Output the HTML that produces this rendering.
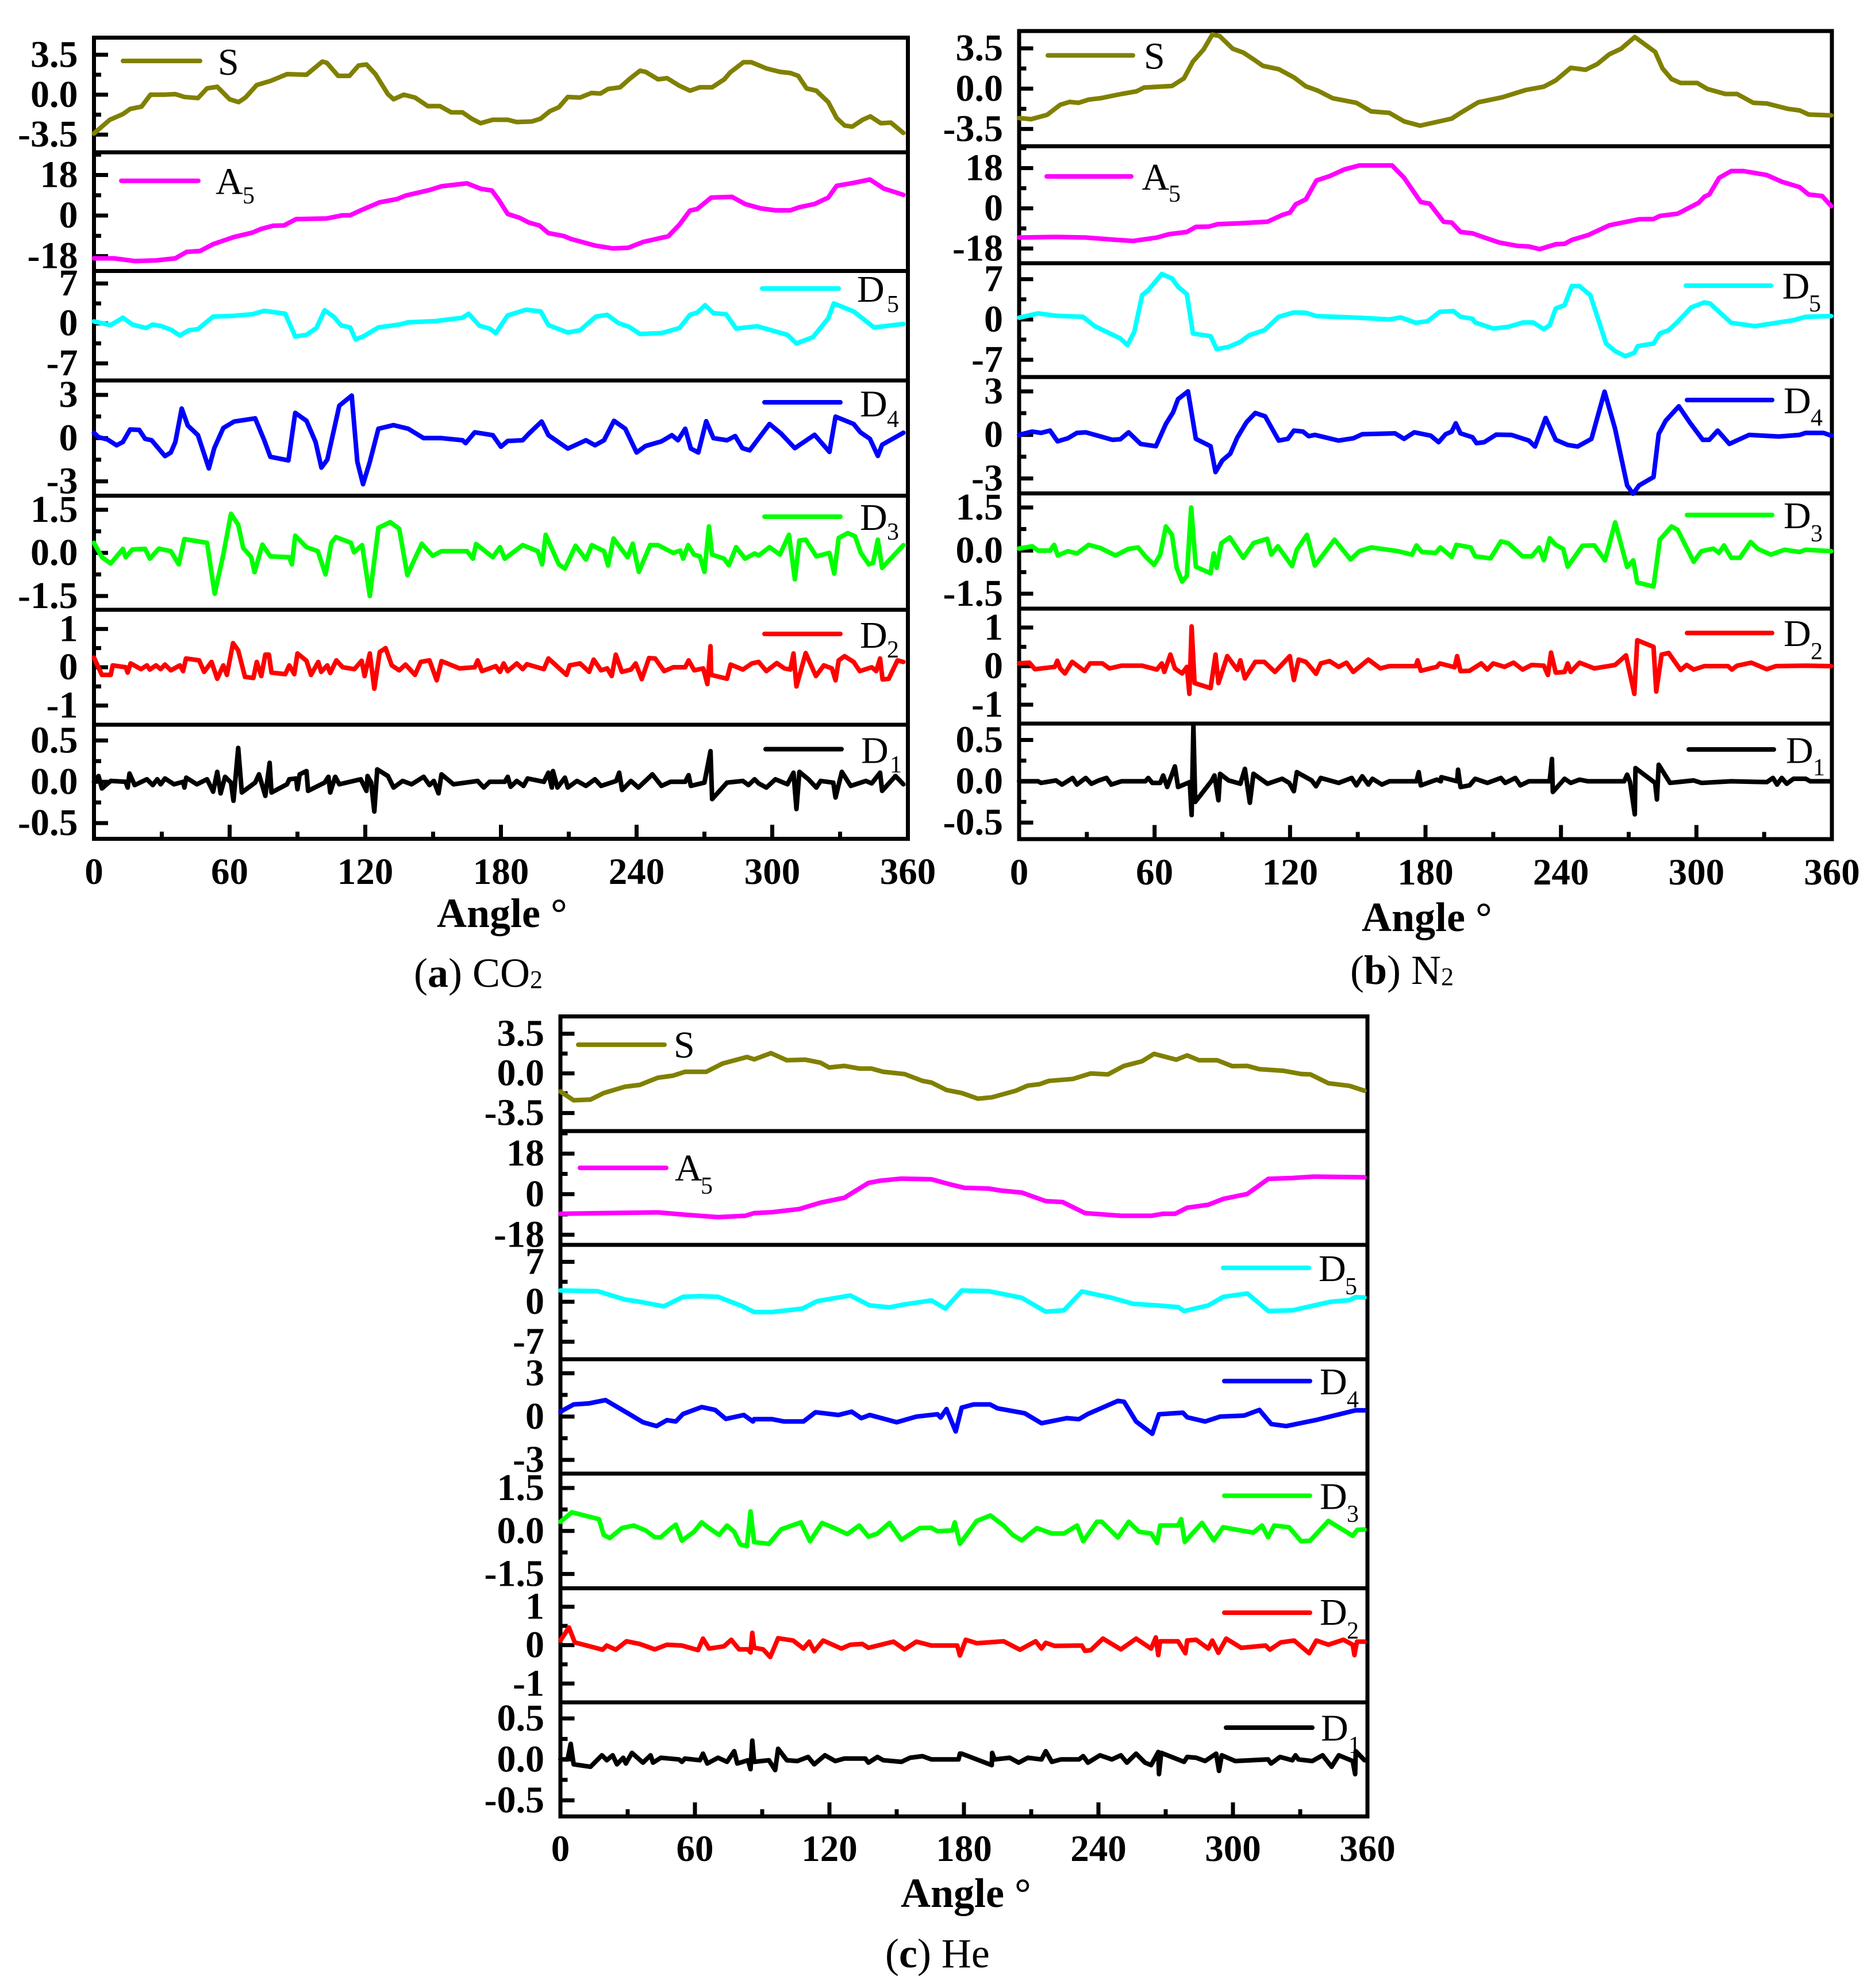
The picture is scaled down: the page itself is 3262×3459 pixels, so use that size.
<!DOCTYPE html>
<html lang="en">
<head>
<meta charset="utf-8">
<title>Wavelet decomposition of signal versus angle for CO2, N2 and He</title>
<style>
html,body{margin:0;padding:0;background:#fff;}
svg{display:block;font-family:"Liberation Serif","Times New Roman",serif;}
</style>
</head>
<body>
<svg id="figure" xmlns="http://www.w3.org/2000/svg" width="3262" height="3459" viewBox="0 0 3262 3459">
<rect x="0" y="0" width="3262" height="3459" fill="#ffffff"/>
<g id="plots"></g>
<text x="760" y="1613" font-size="72" font-weight="bold">Angle °</text>
<text x="2369" y="1620" font-size="72" font-weight="bold">Angle °</text>
<text x="1567" y="3318" font-size="72" font-weight="bold">Angle °</text>
<text x="720" y="1717" font-size="72">(<tspan font-weight="bold">a</tspan>) CO<tspan font-size="44" dy="2">2</tspan></text>
<text x="2349" y="1712" font-size="72">(<tspan font-weight="bold">b</tspan>) N<tspan font-size="44" dy="2">2</tspan></text>
<text x="1540" y="3423" font-size="72">(<tspan font-weight="bold">c</tspan>) He</text>
</svg>
<script>
const xMajorTicks=[0,60,120,180,240,300,360];
const xMinorTicks=[30,90,150,210,270,330];
const rowIds=['s','a5','d5','d4','d3','d2','d1'];
const rowLabels=['S','A','D','D','D','D','D'];
const rowSubscripts=['','5','5','4','3','2','1'];
const rowColors=['#808000','#ff00ff','#00ffff','#0000ff','#00ff00','#ff0000','#000000'];
const yTickValues=[[3.5,0,-3.5],[18,0,-18],[7,0,-7],[3,0,-3],[1.5,0,-1.5],[1,0,-1],[0.5,0,-0.5]];
const yTickLabels=[['3.5','0.0','-3.5'],['18','0','-18'],['7','0','-7'],['3','0','-3'],['1.5','0.0','-1.5'],['1','0','-1'],['0.5','0.0','-0.5']];
const yMinorTicks=[[1.75,-1.75],[27,9,-9],[3.5,-3.5],[1.5,-1.5],[0.75,-0.75],[0.5,-0.5],[0.25,-0.25]];
const co2YDomains=[[-5.05,5],[-24.6,28.06],[-10,9.19],[-4,4],[-1.98,1.99],[-1.5,1.5],[-0.69,0.69]];
const n2YDomains=[[-5,5],[-24.6,27.8],[-10,9.77],[-4.03,3.99],[-2.02,1.99],[-1.49,1.49],[-0.7,0.698]];
const heYDomains=[[-5.09,5.03],[-22.5,28],[-10.07,9.97],[-3.95,3.97],[-2,2],[-1.49,1.48],[-0.697,0.697]];

const co2SAngles=[0,7,12.8,16,21,25,31,36,40,46,50,54.5,60,64,67,72,78,85.4,94,101,103,108,113,117,120.5,124.5,130,132.5,137,142,147.6,153,158,163,167,171,176.4,183,187,193.6,197.6,201.6,205.6,209.6,215,220,224,227.4,232.7,237,241.5,244,249.5,253.5,258.8,263.6,268,273.4,278.8,281.4,287.3,290.7,297.4,303.5,308,311.5,315.2,319.5,324.8,328.5,332,335.4,340,343.4,348,352.5,358];
const co2SValues=[-3.4,-2.2,-1.7,-1.25,-1.05,0,0,0.05,-0.2,-0.3,0.55,0.7,-0.4,-0.65,-0.25,0.85,1.2,1.8,1.75,2.9,2.8,1.65,1.65,2.55,2.65,1.8,0.05,-0.4,0,-0.25,-1,-1,-1.55,-1.55,-2.1,-2.5,-2.2,-2.2,-2.4,-2.35,-2.1,-1.45,-1.1,-0.2,-0.25,0.15,0.1,0.5,0.65,1.4,2.1,2,1.35,1.45,0.8,0.35,0.65,0.65,1.35,1.95,2.85,2.85,2.3,2,1.9,1.65,0.55,0.35,-0.65,-2.05,-2.7,-2.8,-2.2,-1.9,-2.5,-2.45,-3.35];
const co2A5Angles=[0,8.8,18,27.4,36,41,47,52.7,62,70,74,79.3,84,89.4,103,110,113.3,118,126.4,134,138,148.4,153.7,165,171,176,179,183,188.3,192.3,197,201,207.8,211,221.6,229.6,236.3,243,254,259,263.6,266.8,273,282.2,288,294.8,301.4,308,312,318.7,324.8,328.5,336,343.2,349.3,358];
const co2A5Values=[-19,-19,-20.2,-19.9,-19,-16.1,-15.7,-12.7,-9.5,-7.6,-5.9,-4.5,-4.4,-1.6,-1.3,0.1,0.1,2.3,5.9,7.3,8.9,11.3,13,14.3,11.9,11.1,7,0.7,-1,-3.1,-4.4,-7.8,-9.1,-10.4,-13.3,-14.6,-14.3,-11.7,-9.2,-4,2.2,2.9,8,8.3,5.1,3.2,2.3,2.3,3.7,5.1,8,13.2,14.5,16,12,9.2];
const co2D5Angles=[0,7.4,12.8,17,23,26,30,34,38,42,46,52.7,60.6,70,75.3,84.6,89,94,98.4,102,106,109.3,113.3,115.7,119,125.8,135,139,151,163,165.7,170.5,175,177.7,183,191,197.6,201,209.6,215,222,227,232,236.7,241.5,251,259,263.6,266.8,270.3,274,279.6,284,293.4,306.7,310.7,318,324.8,327.2,336,345,358];
const co2D5Values=[0.35,-0.3,1,-0.2,-0.8,-0.2,-0.5,-1.1,-2.1,-1.2,-1,1.2,1.3,1.6,2.2,1.7,-2.3,-2,-0.8,2.3,1.2,-0.35,-0.7,-2.8,-2.3,-0.7,-0.2,0.2,0.4,1,1.7,-0.4,-0.9,-1.7,1.4,2.4,2.1,-0.3,-1.6,-1.2,1.2,1.5,0.05,-0.6,-1.85,-1.7,-0.8,1.5,1.9,3.2,1.8,1.6,-0.9,-0.5,-2,-3.5,-2.4,0.9,3.5,2.1,-0.7,-0.1];
const co2D4Angles=[0,2,6,10,12.8,16,20,22.6,25.5,31.4,34,36,38.8,41.5,46,50.8,53.2,57.2,62,71.3,75.3,78,86,89,94,98,100.6,103.2,108.5,114,116.5,119,122,125.8,132.5,139,145.8,153.7,163,164.4,168.4,176.4,180,183,189.6,192.3,198,201,209.6,217.6,221.6,225.6,230,235,240,244,251,255.6,258.3,261.5,264,267.3,270.8,274,280,283.6,286.8,290,298.8,304,310,318.7,325.3,328,336,339,343.2,346.7,348.6,358];
const co2D4Values=[0.37,0.07,-0.1,-0.5,-0.27,0.6,0.57,-0.05,-0.15,-1.25,-1,-0.27,2.05,0.87,0.2,-2.1,-0.7,0.7,1.15,1.37,-0.15,-1.3,-1.55,1.75,1.2,-0.27,-2.05,-1.5,2.25,2.95,-1.65,-3.2,-1.65,0.65,0.9,0.65,0,0,-0.15,-0.35,0.4,0.2,-0.6,-0.2,-0.15,0.3,1.15,0.2,-0.73,-0.15,-0.5,-0.15,1.2,0.65,-1,-0.55,-0.23,0.2,-0.15,0.65,-0.73,-1,1.17,0,-0.15,0.14,-0.7,-0.85,0.98,0.3,-0.7,0.23,-0.96,1.49,0.98,0.4,-0.05,-1.24,-0.46,0.37];
const co2D3Angles=[0,3.5,7.4,12.8,14,17,22.6,24.7,28.7,34,37.5,40,50,53.4,57.2,60.6,63.8,66,69.5,71,74.5,78,86.4,87.5,89,94,99,102.4,105,107,113.7,115,118.6,122,125.8,131,135,138.6,145,149.8,153.7,165,167.6,169,176.4,179.6,181.7,189.6,196.3,198.2,199.8,205.6,208.3,213,217.6,220.2,225.6,227.4,229.8,236,238.3,241,246,249.5,256.2,259.3,260.6,262.8,265.4,268,270,272,273.4,278.7,280.8,284,288,292.2,294,298.8,303.4,307.4,310,312,314.8,319.5,325.3,327.4,329.4,333.4,336.6,339.2,342.7,344.6,346.7,348.6,358];
const co2D3Values=[0.35,-0.15,-0.37,0.14,-0.15,0.12,0.14,-0.2,0.15,0.06,-0.4,0.48,0.35,-1.42,-0.06,1.36,0.98,0.17,-0.14,-0.67,0.29,-0.12,-0.15,-0.4,0.6,0.2,0.06,-0.75,0.35,0.55,0.35,0.02,0.27,-1.5,0.87,1.07,0.84,-0.77,0.32,-0.1,0.06,0.06,-0.2,0.31,-0.15,0.2,-0.2,0.27,0.06,-0.4,0.63,-0.4,-0.55,0.25,-0.23,0.27,0.06,-0.44,0.5,-0.15,0.32,-0.66,0.27,0.27,0,0.08,-0.2,0.27,-0.06,-0.12,-0.66,0.92,-0.06,-0.2,-0.43,0.2,-0.2,-0.02,-0.09,0.2,-0.06,0.63,-0.92,0.43,0.46,-0.12,0,-0.72,0.52,0.69,0.58,0,-0.4,-0.35,0.46,-0.52,0.27];
const co2D2Angles=[0,3.5,7.4,8.3,14,14.9,16.2,20.8,23.4,24.7,27.4,29.5,31.4,34,38,39.4,40.7,46.5,48.7,52,54.5,57.2,58.8,61.5,63.8,66.8,70.5,72,74,75.8,77.4,78.5,84.6,86.4,88.6,90,94,96,99.2,100.5,103.2,104.5,107.2,110,115.2,118.4,119.7,122,124,126.4,129,131.7,135,137.8,142,144.5,148.4,151.6,153.7,161.7,168.4,169.7,171.6,177.7,179.6,181.2,183,187,189.6,191.5,199,201,209,210.4,215,219,221,224.3,227,229,230.8,233.5,237.5,239.6,242.3,245.5,248.2,252.2,256.2,261.5,263,265.5,269.5,271.3,272.7,273,280,281.6,287,291,294,297.4,302,305.4,308,309.4,310.7,314.8,319.3,322.8,326.4,328,329.4,332,336,338.7,344,346,347.7,348.8,351.5,355.4,358];
const co2D2Values=[0.25,-0.2,-0.2,0.05,0,-0.14,0.1,-0.05,0.05,-0.06,0.05,-0.05,0.07,-0.08,0.05,-0.1,0.23,0.18,-0.12,0.14,-0.3,0.05,-0.2,0.63,0.44,-0.25,-0.28,0.14,-0.23,0.33,0.33,-0.14,-0.18,0.05,-0.18,0.36,0.17,-0.2,0.14,-0.12,0.05,-0.15,0.18,0,-0.05,0.17,-0.23,0.36,-0.56,0.4,0.5,0.05,-0.08,0.07,-0.2,0.14,0.18,-0.34,0.16,-0.03,0,0.18,-0.1,0.03,-0.12,0.1,-0.1,0.1,-0.05,0.08,-0.05,0.23,-0.2,0.05,0.1,-0.12,0.2,-0.08,-0.03,-0.23,0.33,-0.12,-0.06,0.1,-0.31,0.24,0.23,-0.1,0,0,0.18,-0.08,-0.03,-0.44,0.55,-0.2,-0.3,0.07,-0.06,0.1,0.14,-0.1,0.11,-0.03,-0.06,0.36,-0.5,0.37,-0.23,0.05,-0.03,-0.34,0.18,0.29,0.14,-0.1,0,-0.1,0.23,-0.32,-0.3,0.18,0.14];
const co2D1Angles=[0,2,3.5,7.4,14,14.9,15.7,18,23.4,26,28,29.5,31.4,35.4,39.4,40,40.8,45.5,50,52.7,54.5,56,58,60.6,61.7,63.8,65.4,71.3,73,75.8,77.7,78.5,85.4,86.4,89.4,90,91,94,94.7,102,103.7,104.5,106.7,108.5,118,120.5,121,122.6,124,125.3,130,132.5,136.5,140.5,145.8,148.4,150.3,152.4,153.7,159,169.7,172.4,175,181.7,183,184.3,187,190,191.8,199,201,202.5,203,205,208.3,209.6,213.6,217.6,221.6,224.3,231,232.3,233.6,237.5,240.8,247,251,255,261.5,263,264,270,272.7,273.4,280,287,289.5,292.2,294,297.4,301.4,306.7,309.4,310.7,312,316,319.5,321.4,327,328,330.8,334.7,341.4,344,347.7,348.6,354.5,358];
const co2D1Values=[0,0.07,-0.08,0.01,0,-0.07,0.1,-0.04,0.03,-0.04,0.03,-0.03,0.04,-0.03,0,-0.07,0.05,-0.03,0.03,-0.12,0.12,-0.14,0.06,-0.01,-0.23,0.41,-0.13,-0.01,0.09,-0.17,0.23,-0.13,-0.03,0.03,0.04,-0.09,0.09,0.13,-0.11,-0.01,0.06,-0.13,0.06,-0.03,0.03,-0.11,0.07,-0.01,-0.36,0.15,0.07,-0.07,0.01,-0.03,0.06,-0.04,0.01,-0.14,0.09,-0.03,0.01,-0.07,0,0,0.06,-0.06,0.01,-0.05,0.04,0,0.11,-0.07,0.13,-0.07,0.05,-0.07,0.01,-0.05,0.03,-0.05,0.01,0.11,-0.1,0.01,-0.07,0.09,-0.05,0,0,0.08,-0.05,-0.01,0.37,-0.21,-0.01,0.01,-0.04,0.03,-0.02,-0.07,0.03,-0.03,0.11,-0.33,0.12,0.03,-0.07,0.01,-0.01,-0.19,0.12,-0.05,0.01,-0.02,0.11,-0.11,0.07,-0.03];

const n2SAngles=[0,5.3,12.4,18.2,22.4,26.3,30.8,36,45.3,52,55.3,67.7,73,77,81.7,85.6,88.8,94.6,99.3,103.8,108,115,121.7,127,132.3,138.9,149.4,156,164,170.5,177.6,191.6,195.5,203.4,214,224.5,232.4,237.7,244.3,250.9,256,261.4,266.7,272.7,281.7,285,289,293,300.4,304.9,312.8,318,325.2,331.2,340.4,345.7,349.7,359.7];
const n2SValues=[-2.55,-2.65,-2.27,-1.4,-1.15,-1.23,-0.95,-0.83,-0.46,-0.23,0.09,0.23,0.89,2.35,3.4,4.7,4.56,3.47,3.13,2.55,1.98,1.69,0.98,0.2,-0.17,-0.83,-1.23,-1.98,-2.1,-2.84,-3.21,-2.6,-2.1,-1.18,-0.75,-0.11,0.17,0.72,1.81,1.64,2.12,2.98,3.47,4.48,3.19,1.75,0.83,0.49,0.49,-0.03,-0.46,-0.46,-1.23,-1.29,-1.75,-1.89,-2.24,-2.32];
const n2A5Angles=[0,16.3,29.5,42.7,50.6,61,66.4,74.3,78.3,84,88,98,110,116.5,120,122.5,127,131.7,137.5,144,150.7,165.2,170.5,177.9,181.8,188,191.6,195.5,200.8,204.7,212.6,220.5,225.8,230.6,237.7,241.6,245,252,261.4,274.6,281,283.8,291.7,301,303.5,305.7,310.1,315.4,320.7,331.2,337.8,345.7,349.7,355.7,359.7];
const n2A5Values=[-13.1,-12.8,-13.1,-14.1,-14.6,-13.1,-11.6,-10.6,-8.3,-8.2,-7.1,-6.7,-6,-3,-1.9,1.8,4,12.5,14.4,17.4,19.2,19.2,13.7,2.8,2.1,-6,-6.4,-10.6,-11.2,-12.6,-15.3,-16.8,-17.1,-18.3,-16.1,-15.9,-14.1,-12,-7.6,-4.9,-4.8,-3.4,-2.4,2.5,5.2,6.2,13.7,16.7,16.7,14.9,11.9,9.5,6.2,5.5,1];
const n2D5Angles=[0,8.4,16.3,28.2,33.5,38.7,44.8,48,51,54.5,57.2,63.2,67.7,70.4,74.3,77,84.8,87.5,92.8,98,102,108.6,115,121.7,127,131.7,150.7,164,169,175.7,181,186.3,192.4,195.5,200.8,202,210,216.6,223.2,227.7,232.4,235,237.7,241.6,244.8,248.2,253,260,264,268.5,272.5,274,281,283.8,287.7,291.7,297.7,303.5,306,315.4,326,343,348.4,359.7];
const n2D5Values=[0.3,1.05,0.64,0.46,-1.16,-2.15,-3.3,-4.47,-2.15,4.23,5.1,7.9,7.13,5.68,4.4,-2.44,-2.9,-5.16,-4.76,-3.89,-2.73,-1.86,0.46,1.22,1.16,0.58,0.29,0,0.35,-0.58,-0.29,1.33,1.45,0.46,0.12,-0.52,-1.57,-1.28,-0.52,-0.52,-1.68,-0.99,1.91,2.49,5.8,5.8,4.23,-4.18,-5.51,-6.38,-5.8,-4.64,-4.18,-2.44,-1.86,-0.41,2.09,2.96,2.78,-0.58,-1.16,-0.12,0.46,0.58];
const n2D4Angles=[0,5.8,9.7,13.7,17,21.6,25.6,29.5,41.4,44.8,48.5,53.8,60.6,65,68.2,70.4,74.8,78.3,84.8,87,90,93.5,96.7,100.7,104.6,109,115,119,121.7,125.7,128.3,131,141.5,148,152,166.5,170.5,175,182.3,185.8,188.9,191.6,193.4,195.5,200.8,202.6,206,211.3,218,225.8,228.5,233.2,237.7,243,247.4,253.5,259.3,264,269.3,271.9,274.6,281,283.3,286.4,292.2,297,302.8,305.7,309.4,314.6,323.3,336.5,345.7,348.4,356.3,359.7];
const n2D4Values=[0,0.23,0.14,0.3,-0.44,-0.23,0.14,0.18,-0.34,-0.3,0.18,-0.62,-0.78,0.76,1.56,2.47,3,-0.27,-0.78,-2.56,-1.76,-1.3,-0.16,0.87,1.51,1.28,-0.39,-0.27,0.3,0.23,-0.09,0,-0.39,-0.23,0.05,0.11,-0.27,0.18,-0.05,-0.5,0.05,0.23,0.8,0.11,-0.16,-0.57,-0.5,0.02,0,-0.39,-0.8,1.17,-0.34,-0.69,-0.8,-0.27,2.98,0.41,-3.48,-4.05,-3.48,-2.9,0.07,0.98,1.97,0.87,-0.34,-0.34,0.3,-0.62,0,-0.11,0,0.14,0.14,-0.05];
const n2D3Angles=[0,5.8,8.4,13.7,15.5,17.1,21.6,25.6,30.8,36,42.7,48.5,52.7,55.9,59.8,62.5,65,67.7,69.8,72.2,74.3,76.2,78.3,84.8,86.2,87.5,89.6,93.3,99.3,103.8,109.9,111.7,114.6,120.9,123,127.5,131,139.7,146.8,150.7,156,167.8,174,176,178.4,184.5,186.6,191.6,193.7,200,202,208.8,213.4,216.6,223,227.1,230.3,232.4,235,237.7,241,243,249.5,254.8,259.5,264,269.3,272,273.8,281,283.8,289,291.7,298.8,302.2,307.5,310,312.2,315.4,319.3,324,327.2,333,339,345.7,348.4,359.7];
const n2D3Values=[0.07,0.15,0,0,0.2,-0.17,-0.02,-0.1,0.2,0.09,-0.17,0.06,0.11,-0.2,-0.5,-0.14,0.84,0.55,-0.6,-1.08,-0.88,1.5,-0.56,-0.79,-0.1,-0.6,0.26,0.46,-0.25,0.26,0.41,-0.14,0.15,-0.54,0.03,0.55,-0.52,0.38,-0.31,-0.02,0.11,-0.02,-0.14,0.18,-0.05,-0.08,0.11,-0.22,0.2,0.11,-0.2,-0.27,0.32,0.26,-0.2,-0.2,0.11,-0.33,0.43,0.2,0.06,-0.56,0.17,0.18,-0.34,0.98,-0.57,-0.34,-1.11,-1.25,0.38,0.84,0.72,-0.39,-0.02,0.07,-0.08,0.18,-0.25,-0.25,0.3,0.06,-0.14,0.03,-0.05,0.03,-0.02];
const n2D2Angles=[0,4.5,7,15.8,16.9,18.2,20.3,23.5,29,31.4,36.9,40,45.3,54.5,61,63.2,64.3,67,69,72.2,74.3,75.4,76.4,77.7,84.8,87,88.3,92.2,96.7,98,100,104.6,108.6,113.3,119.9,121.7,123.8,127,129.6,131.5,133.6,137.5,141.5,145,148,154.7,160,164,175.7,176.5,177.9,185,186.3,192.9,194,195.5,199.5,204.7,207.4,210,215,219,223,227,232.4,234.2,235.6,237.7,241.6,243,244.3,248.2,254.8,264,268.8,272.5,273.8,281,282.2,284.6,287.7,293,295.7,298.8,303.5,314,315.7,318,324.3,331.2,335.2,348.4,359.7];
const n2D2Values=[0.07,0.09,-0.08,-0.02,0.14,-0.06,-0.19,0.11,-0.13,0.07,0.07,-0.06,0.01,0.01,-0.09,0.07,-0.15,0.3,-0.06,-0.19,-0.02,-0.72,1.03,-0.44,-0.57,0.3,-0.44,0.26,-0.1,0.15,-0.32,0.11,0.11,-0.15,0.26,-0.36,0.17,0.11,-0.06,-0.2,0.07,0.13,-0.02,0.09,-0.15,0.17,-0.06,0,0,0.15,-0.12,-0.02,0.07,-0.03,0.26,-0.13,-0.12,0.07,-0.09,0.07,-0.02,0.09,-0.09,0.03,0.01,-0.23,0.35,-0.17,-0.15,0.07,-0.15,0.09,-0.06,0.03,0.28,-0.72,0.67,0.5,-0.66,0.3,0.34,-0.1,0.03,-0.09,0,0,-0.09,0.01,0.09,-0.08,0,0.01,0];
const n2D1Angles=[0,8.4,9.7,16.3,19,23.7,25.6,29.5,32,35.3,38.7,40.8,45.3,55.9,57.2,59,62.5,63.8,65.6,69,70.4,75.6,76.4,77.2,78,85.4,86.5,88.3,89,92.8,98,100,102.2,103.8,110,116.5,119.6,121.7,123,129.6,131.5,133.6,141.5,147.3,149.4,152,154.7,156.5,160.7,164,176,177,177.9,185,186.8,187,194,194.4,195.5,199.5,202,207.4,213.4,215.3,219.8,222,225.8,235,236,236.4,241.6,244.3,248.2,252,268,269.3,270.6,272.7,273,281.7,282.5,283.3,288.3,298.8,302.2,315.4,331.2,333.9,335.7,337.8,340,343,348.4,350.4,359.7];
const n2D1Values=[0,0,-0.02,0.01,-0.04,0.04,-0.04,0.04,-0.03,0.01,0.04,-0.04,0,0,0.04,-0.02,-0.02,0.07,-0.07,0.18,-0.07,-0.01,-0.41,0.67,-0.25,0.01,0.07,-0.23,0.09,0.01,-0.03,0.15,-0.26,0.09,-0.03,0.03,-0.02,-0.12,0.11,0.01,-0.06,0.04,-0.02,0.04,-0.05,0.06,-0.04,0.03,-0.04,0,0,0.11,-0.05,0.02,0,0.05,0,0.14,-0.07,-0.05,0.03,-0.02,0.04,-0.02,0.04,-0.05,0,0,0.27,-0.13,0.03,-0.02,0.02,0,0,0.08,-0.01,-0.4,0.16,-0.02,-0.22,0.2,-0.02,0.01,-0.02,0,-0.01,0.04,-0.04,0.04,-0.03,0.03,0.03,0,0];

const heSAngles=[0,5.9,13.4,19.3,28.7,35.4,43.5,50.2,55.5,65,72.3,83.2,86.4,93.9,101,109.2,115.9,119.9,126.6,133.3,138.7,144,153.5,161.5,165.5,172.2,179,186.2,192.4,203.1,208.5,213.8,217.9,228.6,236.6,244.2,251.4,259.4,264.8,274.7,279.6,284.9,293,299.7,306.4,311.8,322.5,330.6,334.6,342.6,352,358.7];
const heSValues=[-1.6,-2.37,-2.31,-1.73,-1.18,-1.01,-0.38,-0.2,0.14,0.14,0.87,1.45,1.24,1.79,1.16,1.21,0.95,0.52,0.66,0.43,0.43,0.14,-0.06,-0.66,-0.81,-1.47,-1.73,-2.23,-2.11,-1.53,-1.07,-0.95,-0.66,-0.49,0,-0.09,0.66,1.07,1.73,1.21,1.59,1.16,1.16,0.64,0.66,0.38,0.23,-0.06,-0.09,-0.87,-1.1,-1.53];
const heA5Angles=[0,19.3,43.5,55.5,70.3,82.4,86.4,94.4,106.5,115.9,126.6,137.4,142.7,152.1,165.5,173.6,180.3,191,196.4,205.8,216.5,224,234,250,263.5,268.8,274.2,279.6,289,295.7,306.4,315.8,326.5,336,358.7];
const heA5Values=[-8.7,-8.4,-8.1,-9.1,-10.2,-9.6,-8.4,-8,-6.6,-3.8,-1.6,5,6,6.9,6.6,4.4,2.8,2.5,1.6,0.7,-3.1,-3.5,-8.4,-9.6,-9.6,-8.7,-8.7,-6,-4.7,-2.1,0.1,6.8,7.2,7.8,7.5];
const heD5Angles=[0,16.6,28.7,35.4,46.1,54.7,62.2,70.3,81,86.4,94.4,107.9,114.6,129.3,138,146.8,153.5,165.5,171.7,179,191,205.8,216.5,224.6,232.6,246,255.4,266.2,275.5,278.2,289,295.7,306.4,315.8,326.5,343.6,352,354.7,358.7];
const heD5Values=[1.97,1.85,0.4,0,-0.81,0.87,0.98,0.87,-0.75,-1.8,-1.8,-1.2,0.12,1.1,-0.64,-0.98,-0.46,0.23,-1.2,1.97,1.85,0.7,-1.74,-1.5,1.8,0.7,-0.35,-0.64,-0.93,-1.62,-0.64,0.87,1.45,-1.62,-1.5,0,0.29,0.81,0.75];
const heD4Angles=[0,5.9,12.6,20.1,31.4,36.8,42.9,47.5,51.5,54.7,63,69,73.8,81.8,85.9,86.4,94.4,99.8,108.4,113.8,124,129.9,134.2,138,150,158.8,168.2,169.6,172.2,176.3,179,184.3,191.6,195,207.1,214.6,225.9,231.3,235.3,248.7,251.4,256.8,264,267,277.7,279.6,287.6,294.3,305,311.8,317.1,323.8,337.3,354.7,358.7];
const heD4Values=[0.34,0.84,0.91,1.14,0.11,-0.39,-0.66,-0.25,-0.34,0.18,0.66,0.46,-0.16,0.11,-0.34,-0.18,-0.18,-0.34,-0.34,0.3,0.11,0.34,-0.11,0.11,-0.39,0,0.16,-0.07,0.52,-1.03,0.62,0.84,0.84,0.57,0.23,-0.46,-0.11,-0.18,0.18,1.09,1.03,-0.34,-1.19,0.16,0.27,-0.05,-0.34,0,0.07,0.46,-0.52,-0.66,-0.23,0.43,0.43];
const heD3Angles=[0,5.1,17.2,19.3,22,27.4,32.7,38,42.1,44.8,48.8,51.5,54.2,59.6,63,66.3,70.8,74.3,77.5,80.2,83.2,84.8,86.4,93,98.5,107.3,111.3,116.7,121.3,128,133.3,137.4,141.4,146.8,152.1,160.2,165.5,168.2,174.9,175.9,178.2,181.6,185.7,191.8,197.7,201.8,205.8,212.5,219.2,224.6,230.5,233.2,239.3,241.5,248.7,253.5,258.1,263.5,266.2,267.5,275.5,276.9,278.5,286.2,291.5,295.6,309,313,315.7,318.4,325,330.4,334.4,342.6,353.4,355.5,358.7];
const heD3Values=[0.32,0.65,0.41,-0.14,-0.25,0.1,0.19,0.02,-0.22,-0.22,0.06,0.22,-0.34,-0.03,0.3,0.1,-0.14,0.19,-0.03,-0.47,-0.53,0.68,-0.39,-0.45,0.06,0.3,-0.36,0.28,0.13,-0.11,0.19,-0.2,-0.09,0.28,-0.31,0.1,0.11,-0.01,0.02,0.3,-0.45,-0.09,0.35,0.54,0.19,-0.14,-0.33,0.1,-0.09,-0.09,0.19,-0.36,0.32,0.32,-0.23,0.32,-0.03,-0.09,-0.42,0.19,0.19,0.41,-0.38,0.28,-0.33,0.13,-0.06,0.19,-0.22,0.19,0.13,-0.36,-0.34,0.35,-0.17,0.04,0.05];
const heD2Angles=[0,3.8,6.4,18.8,20.7,24.7,29.5,35.4,42.1,47.5,54.2,61.4,63.6,66.3,73,76.2,79.7,83.7,84.8,85.6,86.4,90.4,93.6,97.1,103.8,108.4,111,113.2,117.2,125.3,129.3,134.7,137.4,148.6,153.5,158.8,165.5,177,178.2,180.8,185.7,197.7,205,212,214.6,216.5,220.5,232.6,234,236.6,242,250,256.8,263.5,265.6,266.7,267.5,275.5,278.8,279.6,283.6,289,290.8,293.5,297,303.7,314.6,316.5,321.3,327.3,334,337.2,342.6,349.3,353.4,354.2,355.3,358.7];
const heD2Values=[0.12,0.46,0.07,-0.12,-0.01,-0.12,0.1,0.03,-0.11,0.01,-0.01,-0.13,0.17,-0.09,-0.03,0.14,-0.11,-0.11,-0.19,0.32,-0.07,-0.11,-0.31,0.18,0.12,-0.09,0.09,-0.16,0.12,-0.09,0.01,0.03,-0.07,0.09,-0.11,0.09,-0.01,-0.01,-0.27,0.14,0.05,0.1,-0.12,0.1,-0.09,0.06,-0.02,-0.01,-0.15,-0.13,0.17,-0.11,0.17,-0.09,0.2,-0.26,0.1,0.1,-0.21,0.12,0.14,-0.09,0.12,-0.2,0.17,-0.07,-0.01,-0.12,0.07,0.12,-0.21,0.12,0.01,0.14,0.01,-0.26,0.09,0.09];
const heD1Angles=[0,3.2,4.6,5.9,13.4,18.5,20.7,23.3,25.2,28,29.2,31.9,36.8,40.2,41.3,44.8,52.9,54.2,55.5,62.2,63.6,65.5,70.3,74.3,77.5,78.9,83.7,84.8,85.6,86.4,93,95.8,97.1,101,105.7,110.5,113.2,118,122.6,126.6,136,137.4,141.4,144,152.1,156,161.5,165.5,177.6,178.2,179,192.4,192.6,193.7,200.4,204.4,208.5,214.6,216.5,219.2,223.2,231.3,233.2,235.3,240.7,246,250,252.7,256.8,260.8,263.5,266.7,267,268,278.2,279.6,283.6,287.6,292.5,293.8,295,301,315.7,317,321,326.5,327.9,329.2,335.4,340,344,347.2,353.4,354.5,354.8,358.7];
const heD1Values=[0,0,0.19,-0.06,-0.09,0.05,-0.01,0.05,-0.06,0.02,-0.05,0.08,-0.04,0.05,-0.04,0.02,0,-0.03,0.01,-0.01,0.07,-0.05,0.02,-0.03,0.1,-0.05,-0.01,-0.12,0.23,-0.03,-0.01,-0.13,0.13,-0.01,-0.02,0.03,-0.06,0.05,-0.02,0.01,0.01,-0.04,0.03,-0.01,-0.03,0.02,0.04,0,0,0.07,0.07,-0.07,0.08,0,0.02,-0.04,0.02,0,0.1,-0.03,0,0,0.04,-0.04,0.05,0,0.05,-0.04,0.07,-0.04,-0.07,0.09,-0.18,0.08,-0.03,0.03,0.02,-0.02,0.07,-0.14,0.05,-0.02,0,-0.05,0.03,-0.01,0.05,0,-0.02,0.05,-0.09,0.05,-0.02,-0.18,0.1,-0.01];

const panelLayouts=[
 {id:'co2',x0:163.5,x1:1579.5,edges:[65.5,265,471.5,662,862.5,1061,1261,1459.5],domains:co2YDomains,
  angles:[co2SAngles,co2A5Angles,co2D5Angles,co2D4Angles,co2D3Angles,co2D2Angles,co2D1Angles],
  values:[co2SValues,co2A5Values,co2D5Values,co2D4Values,co2D3Values,co2D2Values,co2D1Values],
  xLabelBase:1538,
  legend:[[214,348,106,379,130,0,0],[211,345,314.6,375,337.5,422,354],[1326,1459,502,1491,525,1543,543],[1330,1462,700,1496,724.5,1543,743],[1330,1462,899,1496,922,1543,939],[1330,1462,1103,1496,1127,1543,1144],[1332,1464,1303.5,1498,1327.6,1548,1344]]},
 {id:'n2',x0:1773,x1:3187,edges:[54,254.5,458,656,858.5,1059,1259,1460],domains:n2YDomains,
  angles:[n2SAngles,n2A5Angles,n2D5Angles,n2D4Angles,n2D3Angles,n2D2Angles,n2D1Angles],
  values:[n2SValues,n2A5Values,n2D5Values,n2D4Values,n2D3Values,n2D2Values,n2D1Values],
  xLabelBase:1539,
  legend:[[1823,1971,96.4,1990,119.4,0,0],[1821,1968,307,1986.5,330,2033,351],[2933,3081,497,3100.6,519.5,3147,542],[2935,3083,696,3103,719,3150,740.5],[2935,3083,896,3103,919,3150,942],[2935,3083,1101.4,3103,1124,3150,1147],[2938,3086,1304,3107,1327.6,3154,1349]]},
 {id:'he',x0:975,x1:2379,edges:[1768.5,1968,2166,2365,2564,2763.5,2962,3160.5],domains:heYDomains,
  angles:[heSAngles,heA5Angles,heD5Angles,heD4Angles,heD3Angles,heD2Angles,heD1Angles],
  values:[heSValues,heA5Values,heD5Values,heD4Values,heD3Values,heD2Values,heD1Values],
  xLabelBase:3238,
  legend:[[1006,1156,1817.7,1172,1840,0,0],[1009,1159,2032,1174,2054,1219,2077],[2128,2277,2206,2294,2229,2340,2252],[2130,2279,2403,2296,2426,2343,2449],[2130,2279,2602.5,2296,2625.5,2343,2648],[2130,2279,2806,2296,2827,2343,2851],[2133,2283,3006,2298,3028.5,2346,3050]]}
];

const SVG_NS='http://www.w3.org/2000/svg';
const root=document.getElementById('plots');
function make(tag,attrs,parent,content){
  const el=document.createElementNS(SVG_NS,tag);
  for(const k in attrs){el.setAttribute(k,attrs[k]);}
  if(content!==undefined){el.textContent=content;}
  parent.appendChild(el);
  return el;
}
function xScale(p,angle){return p.x0+(angle/360)*(p.x1-p.x0);}
function yScale(p,r,value){
  const top=p.edges[r],bottom=p.edges[r+1],d=p.domains[r];
  return bottom-(value-d[0])/(d[1]-d[0])*(bottom-top);
}
panelLayouts.forEach(function(p){
  const panel=make('g',{},root);
  
  
  rowIds.forEach(function(rowId,r){
    const tag=p.id+'-'+rowId;
    const frame=make('rect',{x:p.x0,y:p.edges[r],width:p.x1-p.x0,height:p.edges[r+1]-p.edges[r],fill:'none',stroke:'#000','stroke-width':7},panel);
    
    
    yTickValues[r].forEach(function(v,i){
      const y=yScale(p,r,v);
      const tick=make('line',{x1:p.x0,x2:p.x0+24.5,y1:y,y2:y,stroke:'#000','stroke-width':7},panel);
      
      
      const label=make('text',{x:p.x0-28,y:y+21,'text-anchor':'end','font-size':66,'font-weight':'bold'},panel,yTickLabels[r][i]);
      
      
    });
    yMinorTicks[r].forEach(function(v){
      const y=yScale(p,r,v);
      const minor=make('line',{x1:p.x0,x2:p.x0+12.5,y1:y,y2:y,stroke:'#000','stroke-width':7},panel);
      
      
    });
  });
  rowIds.forEach(function(rowId,r){
    const tag=p.id+'-'+rowId;
    const pts=[];
    const n=Math.min(p.angles[r].length,p.values[r].length);
    for(let i=0;i<n;i++){
      pts.push(xScale(p,p.angles[r][i]).toFixed(1)+','+yScale(p,r,p.values[r][i]).toFixed(1));
    }
    const line=make('polyline',{points:pts.join(' '),fill:'none',stroke:rowColors[r],'stroke-width':8,'stroke-linejoin':'round','stroke-linecap':'round'},panel);
    
    
    const L=p.legend[r];
    const key=make('line',{x1:L[0],x2:L[1],y1:L[2],y2:L[2],stroke:rowColors[r],'stroke-width':8,'stroke-linecap':'round'},panel);
    
    
    const name=make('text',{x:L[3],y:L[4],'font-size':66},panel,rowLabels[r]);
    
    
    if(rowSubscripts[r]){
      const sub=make('text',{x:L[5],y:L[6],'font-size':42},panel,rowSubscripts[r]);
      
      
    }
  });
  const base=p.edges[p.edges.length-1];
  xMajorTicks.forEach(function(a){
    const x=xScale(p,a);
    const tick=make('line',{x1:x,x2:x,y1:base,y2:base-24.5,stroke:'#000','stroke-width':7},panel);
    
    
    const label=make('text',{x:x,y:p.xLabelBase,'text-anchor':'middle','font-size':65,'font-weight':'bold'},panel,String(a));
    
    
  });
  xMinorTicks.forEach(function(a){
    const x=xScale(p,a);
    const minor=make('line',{x1:x,x2:x,y1:base,y2:base-12.5,stroke:'#000','stroke-width':7},panel);
    
    
  });
});
</script>
</body>
</html>
